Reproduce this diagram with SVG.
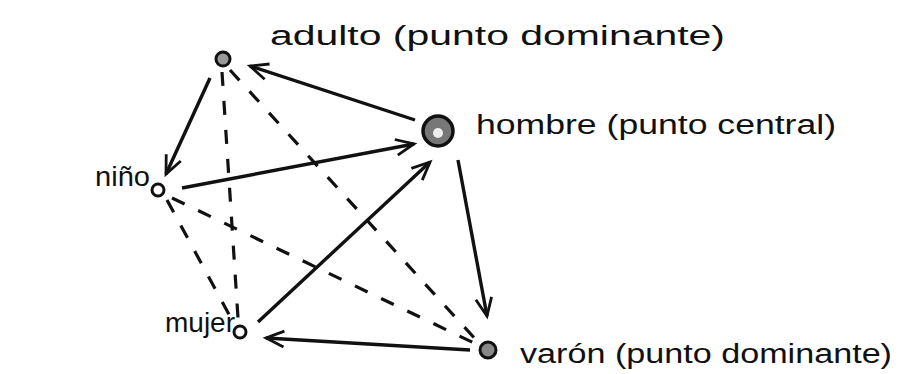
<svg xmlns="http://www.w3.org/2000/svg" width="906" height="374" viewBox="0 0 906 374">
<style>
.lbl{font-family:"Liberation Sans","DejaVu Sans",sans-serif;font-size:27px;fill:#111}
.node{fill:#fff;stroke:#111;stroke-width:3}
.solid{stroke:#111;stroke-width:3.4;fill:none;marker-end:url(#ah)}
.dash{stroke:#111;stroke-width:3.2;fill:none;stroke-dasharray:14 15}
</style>
<defs>
<marker id="ah" viewBox="0 0 12 12" refX="11" refY="6" markerWidth="12" markerHeight="12" markerUnits="userSpaceOnUse" orient="auto" overflow="visible">
<path d="M-7,-2 L11,6 L-7,14" fill="none" stroke="#111" stroke-width="2.8"/>
</marker>
</defs>
<rect width="906" height="374" fill="#fff"/>
<g id="connectors">
<line class="dash" x1="222" y1="72" x2="238" y2="318"/>
<line class="dash" x1="230" y1="70" x2="478" y2="342"/>
<line class="dash" x1="167" y1="200" x2="232" y2="320"/>
<line class="dash" x1="172" y1="198" x2="476" y2="344"/>
<line class="solid" x1="415" y1="120" x2="250" y2="66"/>
<line class="solid" x1="210" y1="78" x2="166" y2="174"/>
<line class="solid" x1="182" y1="188" x2="414" y2="144"/>
<line class="solid" x1="258" y1="322" x2="430" y2="162"/>
<line class="solid" x1="458" y1="160" x2="487" y2="316"/>
<line class="solid" x1="470" y1="350" x2="266" y2="338"/>
</g>
<g id="adulto">
<circle class="node" cx="223" cy="59" r="7" style="fill:#999"/>
<text class="lbl" x="270" y="45" textLength="455" lengthAdjust="spacingAndGlyphs">adulto (punto dominante)</text>
</g>
<g id="hombre">
<circle class="node" cx="438" cy="131" r="15" style="fill:#777;stroke-width:3.5"/>
<circle cx="438" cy="133" r="5" fill="#eee"/>
<text class="lbl" x="476" y="134" textLength="360" lengthAdjust="spacingAndGlyphs">hombre (punto central)</text>
</g>
<g id="nino">
<circle class="node" cx="158" cy="190" r="6"/>
<text class="lbl" x="95" y="186" textLength="55" lengthAdjust="spacingAndGlyphs">niño</text>
</g>
<g id="mujer">
<circle class="node" cx="240" cy="332" r="6"/>
<text class="lbl" x="165" y="332" textLength="70" lengthAdjust="spacingAndGlyphs">mujer</text>
</g>
<g id="varon">
<circle class="node" cx="488" cy="350" r="8" style="fill:#888"/>
<text class="lbl" x="520" y="363" textLength="372" lengthAdjust="spacingAndGlyphs">varón (punto dominante)</text>
</g>
</svg>
